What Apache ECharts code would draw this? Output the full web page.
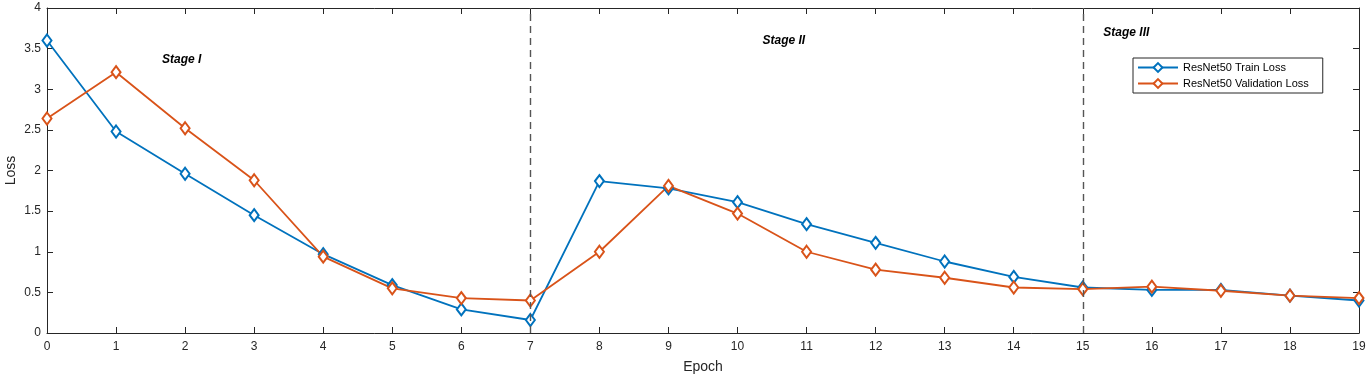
<!DOCTYPE html>
<html>
<head>
<meta charset="utf-8">
<script src="https://cdn.jsdelivr.net/npm/echarts@6/dist/echarts.min.js"></script>
<style>
html, body { margin: 0; padding: 0; background: #fff; }
#main { width: 1366px; height: 376px; }
</style>
</head>
<body>
<div id="main"></div>
<script>
// 数据
var epochs = [0,1,2,3,4,5,6,7,8,9,10,11,12,13,14,15,16,17,18,19];
var trainLoss = [3.60,2.48,1.96,1.45,0.97,0.59,0.29,0.16,1.87,1.78,1.61,1.34,1.11,0.88,0.69,0.56,0.53,0.53,0.46,0.40];
var valLoss = [2.64,3.21,2.52,1.88,0.94,0.55,0.43,0.40,1.00,1.81,1.47,1.00,0.78,0.68,0.56,0.54,0.57,0.52,0.46,0.43];
var stageBounds = [7, 15];
var stageNames = ['Stage I', 'Stage II', 'Stage III'];
var stageAt = [[1.95, 3.36], [10.67, 3.6], [15.63, 3.7]];

function pairs(ys) {
    return epochs.map(function (x, i) { return [x, ys[i]]; });
}

var axisColor = '#262626';
var font = 'Liberation Sans, Arial';
var myChart = echarts.init(document.getElementById('main'));

var option = {
    animation: false,
    grid: { left: 47, right: 7, top: 8, bottom: 43, outerBoundsMode: 'none' },
    legend: {
        orient: 'vertical',
        left: 1133,
        top: 58,
        itemWidth: 40,
        itemHeight: 11,
        itemGap: 5,
        padding: [4, 14, 4, 4],
        borderColor: '#262626',
        borderWidth: 1,
        backgroundColor: '#fff',
        textStyle: { fontFamily: font, fontSize: 11, color: '#000' },
        data: ['ResNet50 Train Loss', 'ResNet50 Validation Loss']
    },
    xAxis: [{
        type: 'value', min: 0, max: 19, interval: 1,
        name: 'Epoch', nameLocation: 'middle', nameGap: 27, nameMoveOverlap: false,
        nameTextStyle: { fontFamily: font, fontSize: 14, color: axisColor },
        axisLine: { onZero: false, lineStyle: { color: axisColor } },
        axisTick: { inside: true, length: 6, lineStyle: { color: axisColor } },
        axisLabel: { fontFamily: font, fontSize: 12, color: axisColor, margin: 8 },
        splitLine: { show: false }
    }, {
        type: 'value', min: 0, max: 19, interval: 1, position: 'top',
        axisLine: { onZero: false, lineStyle: { color: axisColor } },
        axisTick: { inside: true, length: 6, lineStyle: { color: axisColor } },
        axisLabel: { show: false },
        splitLine: { show: false }
    }],
    yAxis: [{
        type: 'value', min: 0, max: 4, interval: 0.5,
        name: 'Loss', nameLocation: 'middle', nameGap: 29, nameMoveOverlap: false,
        nameTextStyle: { fontFamily: font, fontSize: 14, color: axisColor },
        axisLine: { show: true, onZero: false, lineStyle: { color: axisColor } },
        axisTick: { show: true, inside: true, length: 6, lineStyle: { color: axisColor } },
        axisLabel: { fontFamily: font, fontSize: 12, color: axisColor, margin: 6 },
        splitLine: { show: false }
    }, {
        type: 'value', min: 0, max: 4, interval: 0.5, position: 'right',
        axisLine: { show: true, onZero: false, lineStyle: { color: axisColor } },
        axisTick: { show: true, inside: true, length: 6, lineStyle: { color: axisColor } },
        axisLabel: { show: false },
        splitLine: { show: false }
    }],
    series: [{
        name: 'ResNet50 Train Loss',
        type: 'line',
        data: pairs(trainLoss),
        symbol: 'emptyDiamond',
        symbolSize: [9, 12],
        color: '#0072BD',
        lineStyle: { width: 1.8 },
        itemStyle: { borderWidth: 1.6 },
        markLine: {
            silent: true,
            symbol: 'none',
            label: { show: false },
            lineStyle: { color: '#555', type: [7, 5], width: 1.4 },
            data: stageBounds.map(function (x) { return { xAxis: x }; })
        },
        markPoint: {
            silent: true,
            symbol: 'circle',
            symbolSize: 0,
            label: {
                show: true,
                formatter: '{b}',
                fontFamily: font,
                fontSize: 12,
                fontStyle: 'italic',
                fontWeight: 'bold',
                color: '#000'
            },
            data: stageNames.map(function (n, i) { return { name: n, coord: stageAt[i] }; })
        }
    }, {
        name: 'ResNet50 Validation Loss',
        type: 'line',
        data: pairs(valLoss),
        symbol: 'emptyDiamond',
        symbolSize: [9, 12],
        color: '#D95319',
        lineStyle: { width: 1.8 },
        itemStyle: { borderWidth: 1.6 }
    }]
};
myChart.setOption(option);
</script>
</body>
</html>
